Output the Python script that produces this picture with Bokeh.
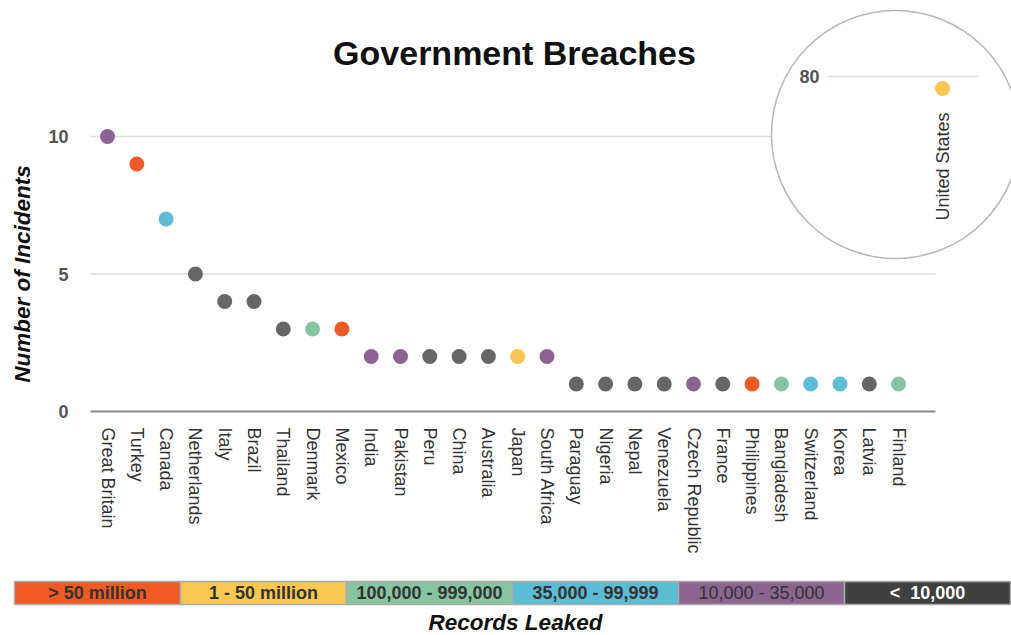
import math
from bokeh.plotting import figure
from bokeh.models import Range1d, FixedTicker, ColumnDataSource
from bokeh.layouts import column, row
from bokeh.core.properties import value
from bokeh.embed import file_html
from bokeh.resources import INLINE

# ---------------- data ----------------
countries = ["Great Britain", "Turkey", "Canada", "Netherlands", "Italy", "Brazil",
             "Thailand", "Denmark", "Mexico", "India", "Pakistan", "Peru", "China",
             "Australia", "Japan", "South Africa", "Paraguay", "Nigeria", "Nepal",
             "Venezuela", "Czech Republic", "France", "Philippines", "Bangladesh",
             "Switzerland", "Korea", "Latvia", "Finland"]
incidents = [10, 9, 7, 5, 4, 4, 3, 3, 3, 2, 2, 2, 2, 2, 2, 2, 1, 1, 1, 1, 1, 1, 1, 1, 1, 1, 1, 1]
# tier index into tier_labels (0 = > 50 million ... 5 = < 10,000)
tiers = [4, 0, 3, 5, 5, 5, 5, 2, 0, 4, 4, 5, 5, 5, 1, 4, 5, 5, 5, 5, 4, 5, 0, 2, 3, 3, 5, 2]

us_name = "United States"
us_incidents = 79
us_tier = 1

y_ticks = [0, 5, 10]
inset_ticks = [80]
y_title = "Number of Incidents"
x_title = "Records Leaked"
chart_title = "Government Breaches"

tier_labels = ["> 50 million", "1 - 50 million", "100,000 - 999,000",
               "35,000 - 99,999", "10,000 - 35,000", "<\u00a0\u00a010,000"]
dot_colors = ["#f15a22", "#f9c74f", "#86c5a2", "#5bbdd6", "#8c6491", "#666666"]
bar_colors = ["#f15a22", "#f9c850", "#86c4a2", "#5bbcd6", "#8b6490", "#404040"]
bar_text_colors = ["#333333", "#333333", "#333333", "#333333", "#333333", "#ffffff"]
bar_text_styles = ["bold", "bold", "bold", "bold", "normal", "bold"]

FONT = value("Liberation Sans")

# ---------------- geometry ----------------
W = 1011
H1 = 570
LW = 40                      # width of the strip holding the y-axis title
frame_bottom = 411           # pixel row of y = 0
px_y = 27.5                  # pixels per incident
x0_px, step_px = 107.0, 29.3 # page x of first category, spacing
left_px = 90                 # page x of the frame's left edge

x_start = -(x0_px - left_px) / step_px
x_end = (W - x0_px) / step_px
y_range = Range1d(0, frame_bottom / px_y)

def xd(px):
    return (px - x0_px) / step_px

def yd(py):
    return (frame_bottom - py) / px_y

axis_end = xd(935)

# ---------------- y-title strip ----------------
L = figure(width=LW, height=H1, output_backend="svg", toolbar_location=None, title=None,
           x_range=Range1d(0, LW), y_range=y_range,
           min_border_left=0, min_border_right=0, min_border_top=0,
           min_border_bottom=H1 - frame_bottom, frame_align=False)
L.axis.visible = False
L.grid.visible = False
L.outline_line_color = None
L.text(x=[22], y=[(y_ticks[0] + y_ticks[-1]) / 2], text=[y_title], angle=math.pi / 2,
       text_font=FONT, text_font_size="22.5px", text_font_style="bold italic",
       text_color="#111111", text_align="center", text_baseline="middle")

# ---------------- main figure ----------------
p = figure(width=W - LW, height=H1, output_backend="svg", toolbar_location=None,
           title=None, x_range=Range1d(x_start, x_end), y_range=y_range,
           min_border_left=left_px - LW, min_border_right=0, min_border_top=0,
           min_border_bottom=H1 - frame_bottom, frame_align=False)
p.outline_line_color = None
p.xgrid.visible = False
p.ygrid.visible = False
p.background_fill_color = "white"
p.border_fill_color = "white"

# x axis
xa = p.xaxis[0]
xa.ticker = FixedTicker(ticks=list(range(len(countries))))
xa.major_label_overrides = {i: c for i, c in enumerate(countries)}
xa.major_label_orientation = -math.pi / 2
xa.major_label_text_font = "Liberation Sans"
xa.major_label_text_font_size = "18px"
xa.major_label_text_color = "#333333"
xa.major_label_standoff = 10
xa.major_tick_line_color = None
xa.minor_tick_line_color = None
xa.axis_line_color = "#888888"
xa.axis_line_width = 2
xa.bounds = (x_start, axis_end)

# y axis
ya = p.yaxis[0]
ya.ticker = FixedTicker(ticks=y_ticks)
ya.axis_line_color = None
ya.major_tick_line_color = None
ya.minor_tick_line_color = None
ya.major_label_text_font = "Liberation Sans"
ya.major_label_text_font_size = "18px"
ya.major_label_text_font_style = "bold"
ya.major_label_text_color = "#555555"
ya.major_label_standoff = 16

# grid lines (limited extent)
grid_y = [t for t in y_ticks if t > 0]
p.segment(x0=[x_start] * len(grid_y), x1=[axis_end] * len(grid_y), y0=grid_y, y1=grid_y,
          line_color="#dddddd", line_width=1.5)

# dots
src = ColumnDataSource(dict(x=list(range(len(countries))), y=incidents,
                            c=[dot_colors[t] for t in tiers]))
p.scatter("x", "y", source=src, size=15, fill_color="c", line_color=None)

# title
p.text(x=[xd(514)], y=[yd(52)], text=[chart_title], text_font=FONT,
       text_font_size="34px", text_font_style="bold", text_color="#111111",
       text_align="center", text_baseline="middle")

# ---------------- inset (axis break) ----------------
inset_px = 12.0           # pixels per incident in the inset
inset_ref_py = 76         # pixel row of inset tick 80
def yi(v):
    return yd(inset_ref_py + (inset_ticks[0] - v) * inset_px)

p.scatter(x=[xd(895)], y=[yd(134)], size=248, marker="circle", fill_color="white",
          line_color="#b8b8b8", line_width=1.5)
p.segment(x0=[xd(828)], x1=[xd(978)], y0=[yi(t) for t in inset_ticks],
          y1=[yi(t) for t in inset_ticks], line_color="#dddddd", line_width=1.5)
p.text(x=[xd(819)], y=[yi(t) for t in inset_ticks], text=[str(t) for t in inset_ticks],
       text_font=FONT, text_font_size="18px", text_font_style="bold",
       text_color="#555555", text_align="right", text_baseline="middle")
us_x = xd(942)
p.scatter(x=[us_x], y=[yi(us_incidents)], size=15, fill_color=dot_colors[us_tier],
          line_color=None)
p.text(x=[us_x], y=[yi(us_incidents) - 24 / px_y], text=[us_name], angle=math.pi / 2,
       text_font=FONT, text_font_size="18px", text_color="#333333",
       text_align="right", text_baseline="middle")

# ---------------- legend bar figure ----------------
H2 = 65
seg_px, seg0_px = 166.0, 14.0
bar_bottom_py, bar_h = 34.0, 23.0
q = figure(width=W, height=H2, output_backend="svg", toolbar_location=None, title=None,
           x_range=Range1d(-seg0_px / seg_px, (W - seg0_px) / seg_px),
           y_range=Range1d((bar_bottom_py - H2) / bar_h, bar_bottom_py / bar_h),
           min_border_left=0, min_border_right=0, min_border_top=0, min_border_bottom=0,
           frame_align=False)
q.axis.visible = False
q.grid.visible = False
q.outline_line_color = None
q.background_fill_color = "white"
q.border_fill_color = "white"

n = len(tier_labels)
q.quad(left=list(range(n)), right=[i + 1 for i in range(n)], bottom=[0] * n, top=[1] * n,
       fill_color=bar_colors, line_color="#aaaaaa", line_width=1.5)
for i in range(n):
    q.text(x=[i + 0.5], y=[0.5], text=[tier_labels[i]], text_font=FONT,
           text_font_size="18px", text_font_style=bar_text_styles[i],
           text_color=bar_text_colors[i], text_align="center", text_baseline="middle")
q.text(x=[(515 - seg0_px) / seg_px], y=[(bar_bottom_py - 52) / bar_h], text=[x_title],
       text_font=FONT, text_font_size="22.5px", text_font_style="bold italic",
       text_color="#111111", text_align="center", text_baseline="middle")

layout = column(row(L, p, spacing=0), q, spacing=0)
open("out.html", "w").write(file_html(layout, INLINE))
